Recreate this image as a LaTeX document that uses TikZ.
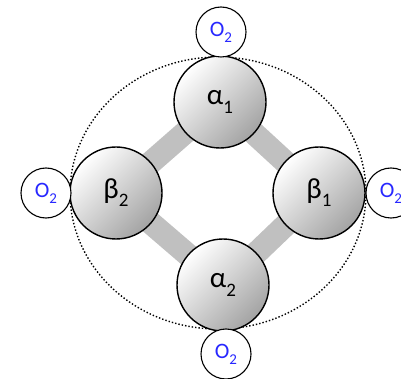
\documentclass[tikz,border=0pt]{standalone}
\usepackage{fontspec}
\setmainfont{Carlito}
\pgfdeclarelayer{background}
\pgfsetlayers{background,main}
\definecolor{oxblue}{RGB}{40,40,255}
\definecolor{bargray}{RGB}{192,192,192}
\newcommand{\bigsub}[1]{\raisebox{-0.28em}{\fontsize{19}{20}\selectfont #1}}
\newcommand{\smallsub}[1]{\raisebox{-0.28em}{\fontsize{15}{16}\selectfont #1}}
\begin{document}
\begin{tikzpicture}[x=1pt,y=-1pt,
  sub/.style={circle,draw=black,line width=1.4pt,minimum size=92pt,inner sep=0pt,
    top color=white,bottom color=black!36,shading angle=45,font=\fontsize{29}{30}\selectfont},
  oxy/.style={circle,draw=black,line width=1.1pt,minimum size=50pt,inner sep=0pt,fill=white,
    text=oxblue,font=\fontsize{22}{23}\selectfont},
  bar/.style={line width=23pt,draw=bargray},
  hull/.style={dotted,line width=1.4pt}]
\useasboundingbox (0,0) rectangle (401,379);
\node[sub] (a1) at (220,102) {α\bigsub{1}};
\node[sub] (b2) at (116,193) {β\bigsub{2}};
\node[sub] (b1) at (319,193) {β\bigsub{1}};
\node[sub] (a2) at (223,285) {α\bigsub{2}};
\node[oxy] (o1) at (221,32) {O\smallsub{2}};
\node[oxy] (o2) at (46,193) {O\smallsub{2}};
\node[oxy] (o3) at (391,193) {O\smallsub{2}};
\node[oxy] (o4) at (226,354) {O\smallsub{2}};
\begin{pgfonlayer}{background}
\draw[bar] (a1.center) -- (b1.center) -- (a2.center) -- (b2.center) -- cycle;
\node[draw=none,fill=none,inner sep=0pt] (ctr) at (218,193) {};
\draw[hull] (ctr) ellipse [x radius=148, y radius=136];
\end{pgfonlayer}
\end{tikzpicture}
\end{document}
